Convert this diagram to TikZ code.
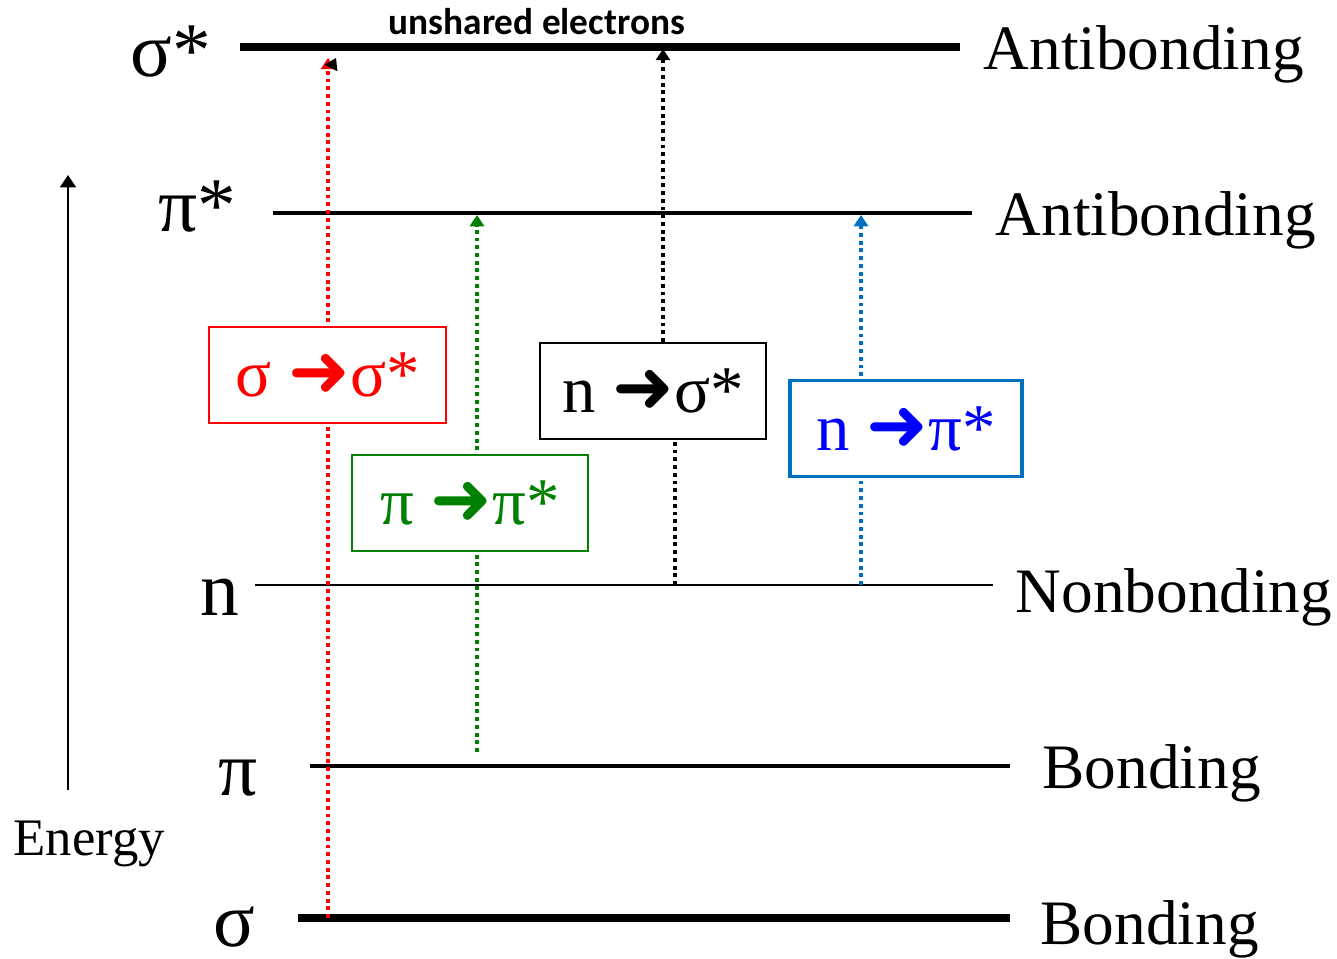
\documentclass[tikz,border=0pt]{standalone}
\usepackage{fontspec}
\setmainfont{Liberation Serif}
\newfontfamily\calib{Carlito}
\newfontfamily\dejavu{DejaVu Sans}
\usetikzlibrary{arrows.meta,positioning}
\definecolor{trred}{RGB}{255,0,0}
\definecolor{trgreen}{RGB}{0,128,0}
\definecolor{trblue}{RGB}{0,0,255}
\definecolor{boxblue}{RGB}{0,112,192}
\newcommand{\goesto}{{\dejavu\fontsize{21}{21}\selectfont ➜}}

\begin{document}
\begin{tikzpicture}[x=0.01cm,y=-0.01cm,
  orbital/.style={line width=#1},
  orbname/.style={font=\fontsize{22}{22}\selectfont,anchor=base west,inner sep=0pt},
  orbkind/.style={font=\fontsize{18}{18}\selectfont,anchor=base west,inner sep=0pt},
  transbox/.style={draw=#1,fill=white,line width=0.6pt,minimum height=0.96cm,inner sep=0pt,font=\fontsize{19}{19}\selectfont},
  jump/.style={draw=#1,line width=1pt,dash pattern=on 1.1pt off 1.1pt,-{Triangle[width=4pt,length=3.2pt]}}]
        \useasboundingbox (0,0) rectangle (1337,958);

        % energy levels
        \coordinate (ss-l) at (240,47);  \coordinate (ss-r) at (960,47);
        \coordinate (ps-l) at (273,213); \coordinate (ps-r) at (972,213);
        \coordinate (n-l) at (255,585);  \coordinate (n-r) at (993,585);
        \coordinate (p-l) at (310,766);  \coordinate (p-r) at (1010,766);
        \coordinate (s-l) at (298,918);  \coordinate (s-r) at (1010,918);

        \draw[orbital=2pt] (ss-l) -- (ss-r);
        \draw[orbital=0.9pt] (ps-l) -- (ps-r);
        \draw[orbital=0.6pt] (n-l) -- (n-r);
        \draw[orbital=0.9pt] (p-l) -- (p-r);
        \draw[orbital=2pt] (s-l) -- (s-r);

        \node[orbname] (ss-name) at (130,77) {σ*};
        \node[orbname] (ps-name) at (158,232) {π*};
        \node[orbname] (n-name) at (200,615) {n};
        \node[orbname] (p-name) at (218,795) {π};
        \node[orbname] (s-name) at (213,946) {σ};

        \node[orbkind] (ss-kind) at (983,70) {Antibonding};
        \node[orbkind] (ps-kind) at (995,236) {Antibonding};
        \node[orbkind] (n-kind) at (1015,612) {Nonbonding};
        \node[orbkind] (p-kind) at (1042,788) {Bonding};
        \node[orbkind] (s-kind) at (1040,944) {Bonding};

        \node[anchor=base west,inner sep=0pt,font=\calib\bfseries\fontsize{10.6}{11}\selectfont] (unshared) at (388,35) {unshared electrons};

        % energy axis
        \coordinate (e-lo) at (68,790);
        \coordinate (e-hi) at (68,175);
        \draw[line width=0.6pt,-{Triangle[width=4.5pt,length=3.5pt]}] (e-lo) -- (e-hi);
        \node[anchor=base west,inner sep=0pt,font=\fontsize{15}{15}\selectfont] (energy) at (13,855) {Energy};

        % transitions
        \coordinate (ss-from) at (328,918); \coordinate (ss-to) at (328,58);
        \coordinate (pp-from) at (477,752); \coordinate (pp-to) at (477,215);
        \coordinate (ns-from) at (675,585); \coordinate (ns-to) at (663,49);
        \coordinate (np-from) at (861,585); \coordinate (np-to) at (861,215);
        \coordinate (stray) at (331,68);    \coordinate (stray-tip) at (336,58);

        \draw[jump=trred] (ss-from) -- (ss-to);
        \draw[-{Triangle[width=4pt,length=3.2pt]}] (stray) -- (stray-tip);
        \draw[jump=trgreen] (pp-from) -- (pp-to);
        \draw[jump=boxblue] (np-from) -- (np-to);

        \node[transbox=trred,text=trred,minimum width=2.37cm] (ss-box) at (327.5,375) {σ \goesto σ*};
        \node[transbox=trgreen,text=trgreen,minimum width=2.36cm] (pp-box) at (470,503) {π \goesto π*};
        \node[transbox=black,minimum width=2.26cm] (ns-box) at (653,391) {n \goesto σ*};
        \node[transbox=boxblue,text=trblue,line width=1pt,minimum width=2.32cm] (np-box) at (906,428.5) {n \goesto π*};

        \draw[jump=black,-] (ns-from) -- (ns-from |- ns-box.south);
        \draw[jump=black] (ns-to |- ns-box.north) -- (ns-to);
\end{tikzpicture}
\end{document}
